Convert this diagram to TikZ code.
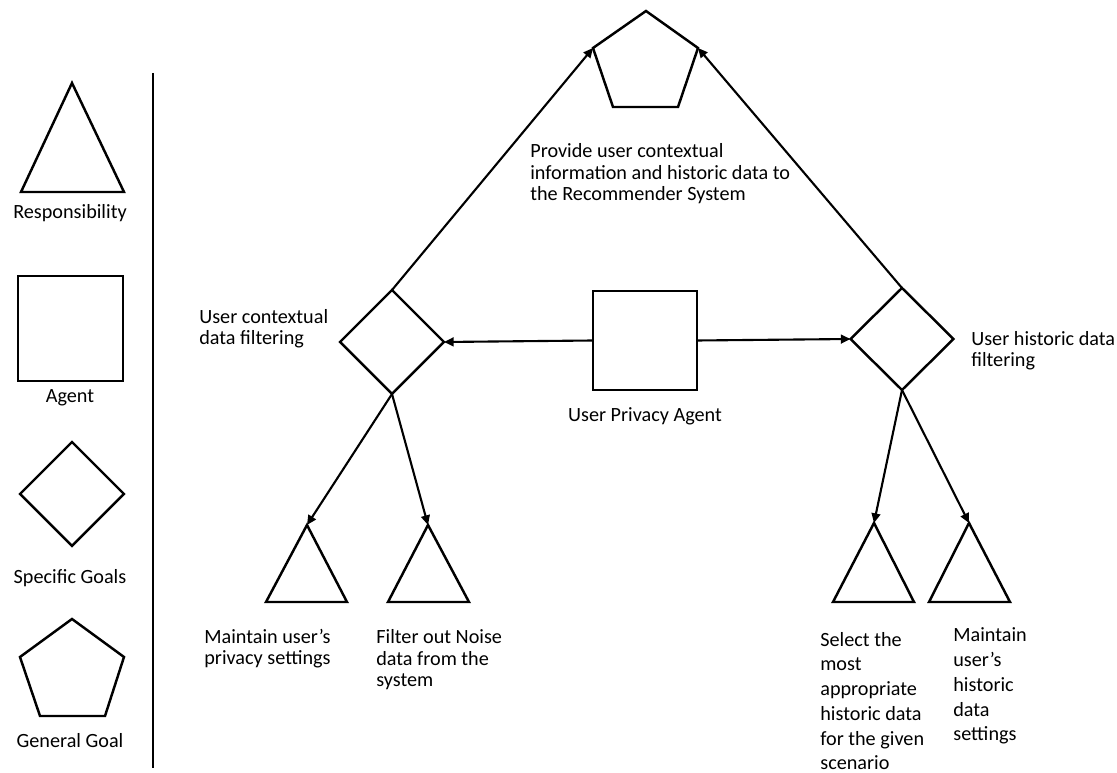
\documentclass[tikz,border=0pt]{standalone}
\usepackage{fontspec}
\setmainfont{Carlito}
\usetikzlibrary{arrows.meta,shapes.geometric}
\begin{document}
\begin{tikzpicture}[x=0.02cm,y=-0.02cm,
  outline/.style={draw, line width=1.4pt, line join=miter},
  goal/.style={diamond, draw, line width=1.4pt, inner sep=0pt, outer sep=0pt,
    minimum width=2.08cm, minimum height=2.08cm},
  agentbox/.style={rectangle, draw, line width=1.4pt, inner sep=0pt, outer sep=0pt},
  link/.style={-{Triangle[length=5.5pt,width=5pt]}, line width=1.2pt},
  % multi-line labels: the base anchor sits on the last line
  lbl/.style={font=\fontsize{11.5}{12.5}\selectfont, inner sep=0pt, align=left, anchor=base west},
  lbltall/.style={lbl, font=\fontsize{11.5}{14.1}\selectfont},
  lblc/.style={font=\fontsize{11.5}{12.5}\selectfont, inner sep=0pt, anchor=base},
]
\useasboundingbox (0,0) rectangle (1117,773);

% ---------- legend ----------
\draw[outline] (72,83) -- (124,192) -- (21,192) -- cycle;
\node[lblc] (kresp) at (70,219) {Responsibility};
\node[agentbox, minimum width=2.1cm, minimum height=2.1cm] (kagent) at (70.5,328.5) {};
\node[lblc] (kagentl) at (70,403) {Agent};
\node[goal] (kgoal) at (72,494) {};
\node[lblc] (kgoall) at (70,584) {Specific Goals};
\draw[outline] (72,619) -- (124,657) -- (105,716) -- (40,716) -- (20,657) -- cycle;
\node[lblc] (kgen) at (70,748) {General Goal};
\draw[line width=1.2pt] (153,73) -- (153,768);

% ---------- general goal ----------
\coordinate (gtop) at (646,11);
\coordinate (gl) at (593,48);
\coordinate (gr) at (698,48);
\coordinate (gbl) at (613,107);
\coordinate (gbr) at (678,107);
\draw[outline] (gtop) -- (gr) -- (gbr) -- (gbl) -- (gl) -- cycle;
\node[lbl] (gtext) at (530,201) {Provide user contextual\\information and historic data to\\the Recommender System};

% ---------- agent and specific goals ----------
\node[agentbox, minimum width=2.08cm, minimum height=1.98cm] (agent) at (645,340.5) {};
\node[lblc] (agentl) at (645,422) {User Privacy Agent};
\node[goal] (lg) at (392,342) {};
\node[goal, minimum width=2.06cm, minimum height=2.04cm] (rg) at (902,339) {};
\node[lbl] (lgl) at (199,345) {User contextual\\data filtering};
\node[lbl] (rgl) at (971,367) {User historic data\\filtering};

\draw[link] (agent.west) -- (lg.east);
\draw[link] (agent.east) -- (rg.west);
\draw[link] (lg.north) -- (gl);
\draw[link] (rg.north) -- (gr);

% ---------- responsibilities ----------
\coordinate (t1) at (307,525);
\coordinate (t2) at (428,525);
\coordinate (t3) at (874,523);
\coordinate (t4) at (969,523);
\draw[outline] (t1) -- (347,602) -- (266,602) -- cycle;
\draw[outline] (t2) -- (469,602) -- (388,602) -- cycle;
\draw[outline] (t3) -- (914,602) -- (833,602) -- cycle;
\draw[outline] (t4) -- (1010,602) -- (929,602) -- cycle;

\draw[link] (lg.south) -- (t1);
\draw[link] (lg.south) -- (t2);
\draw[link] (rg.south) -- (t3);
\draw[link] (rg.south) -- (t4);

\node[lbl] (t1l) at (204,665) {Maintain user’s\\privacy settings};
\node[lbl] (t2l) at (376,687) {Filter out Noise\\data from the\\system};
\node[lbltall] (t3l) at (820,770) {Select the\\most\\appropriate\\historic data\\for the given\\scenario};
\node[lbltall] (t4l) at (953,741) {Maintain\\user’s\\historic\\data\\settings};
\end{tikzpicture}
\end{document}
